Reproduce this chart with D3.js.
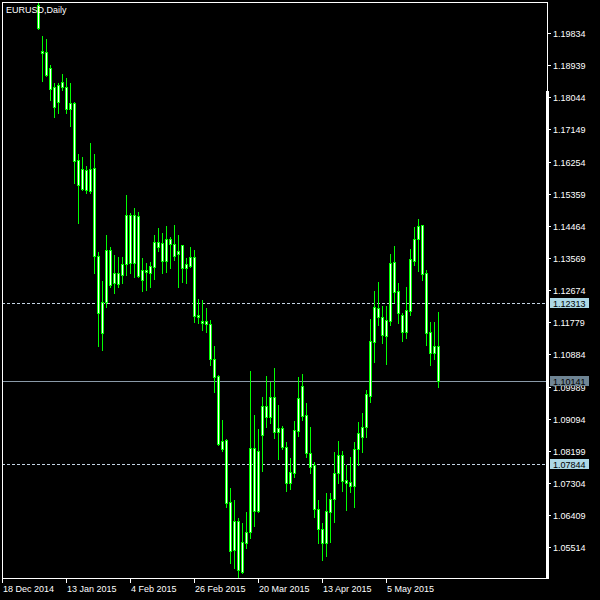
<!DOCTYPE html>
<html><head><meta charset="utf-8">
<script src="https://cdn.jsdelivr.net/npm/d3@7"></script>
<style>html,body{margin:0;padding:0;background:#000;}svg{display:block}</style>
</head><body>
<script>
const chartTitle = "EURUSD,Daily";
const firstBarIndex = 9;
const openP = [1.20614,1.19333,1.19305,1.18860,1.18331,1.17914,1.18331,1.18331,1.17719,1.17886,
1.16299,1.15492,1.16021,1.15436,1.16076,1.13626,1.11483,1.12346,1.13793,1.12875,
1.13153,1.13098,1.13404,1.14768,1.13432,1.14740,1.12958,1.13237,1.13153,1.13320,
1.14016,1.13988,1.13487,1.14100,1.13961,1.13682,1.13933,1.13292,1.13348,1.13599,
1.11928,1.11817,1.11817,1.11733,1.10759,1.10286,1.08254,1.08504,1.06778,1.05442,
1.06249,1.04830,1.05637,1.05943,1.08282,1.06528,1.08643,1.09451,1.09145,1.09701,
1.08727,1.08838,1.08309,1.07307,1.07586,1.08755,1.10008,1.09200,1.08142,1.07808,
1.06583,1.06027,1.05637,1.06500,1.06862,1.07586,1.08087,1.07391,1.07335,1.07224,
1.08254,1.08588,1.08866,1.09729,1.11232,1.12179,1.11928,1.11399,1.11817,1.13459,
1.12652,1.11984,1.11511,1.12095,1.13487,1.14100,1.14489,1.13153,1.11511,1.10926,1.11121];
const highP = [1.21310,1.19751,1.19667,1.18944,1.18442,1.18442,1.18693,1.18582,1.18442,1.17914,
1.16466,1.16382,1.16132,1.16772,1.16466,1.13738,1.12931,1.14211,1.13877,1.13654,
1.13599,1.13599,1.15325,1.14824,1.14963,1.14851,1.13571,1.13432,1.13459,1.14211,
1.14406,1.14267,1.14462,1.14155,1.14489,1.14211,1.13933,1.13571,1.13877,1.13793,
1.12429,1.12402,1.12179,1.11845,1.11121,1.10314,1.09061,1.08532,1.07168,1.06834,
1.06333,1.06194,1.06500,1.10425,1.09200,1.08810,1.09701,1.10286,1.10119,1.10509,
1.09479,1.08894,1.08449,1.08003,1.09033,1.10258,1.10342,1.09534,1.08866,1.07892,
1.06834,1.06194,1.07029,1.07029,1.08170,1.08476,1.08198,1.07808,1.08031,1.08449,
1.09005,1.09256,1.09896,1.11873,1.12652,1.12903,1.12235,1.12235,1.13682,1.13905,
1.12875,1.12040,1.12763,1.13821,1.14434,1.14656,1.14489,1.13237,1.11789,1.11789,1.12068];
const lowP = [1.19946,1.18498,1.18637,1.17969,1.17496,1.17607,1.18248,1.17607,1.17245,1.15659,
1.14545,1.15464,1.15380,1.15380,1.13153,1.11121,1.11010,1.12207,1.12763,1.12596,
1.12763,1.12875,1.13098,1.13153,1.13042,1.13042,1.12652,1.12680,1.12763,1.12986,
1.13766,1.13153,1.13181,1.13292,1.13515,1.12763,1.12903,1.12875,1.13320,1.11789,
1.11761,1.11566,1.11511,1.10592,1.09841,1.08365,1.08198,1.06639,1.05080,1.04941,
1.04635,1.04802,1.05498,1.05776,1.06110,1.06500,1.07641,1.08866,1.08978,1.08560,
1.07975,1.08254,1.07085,1.07140,1.07474,1.08616,1.09061,1.08031,1.07586,1.06361,
1.05637,1.05164,1.05275,1.05665,1.06222,1.07307,1.07085,1.06556,1.07057,1.06639,
1.07808,1.08170,1.08588,1.09562,1.10676,1.11706,1.11205,1.10620,1.11706,1.12346,
1.11761,1.11260,1.11344,1.11984,1.13376,1.13209,1.12958,1.11149,1.10592,1.10759,1.09980];
const closeP = [1.19974,1.19278,1.18665,1.18275,1.17774,1.18387,1.18470,1.17719,1.17886,1.16271,
1.15603,1.16048,1.15464,1.16048,1.13626,1.12040,1.12346,1.13793,1.12819,1.13153,
1.12847,1.13404,1.14768,1.13432,1.14768,1.13070,1.13237,1.13181,1.13348,1.14016,
1.13877,1.13487,1.14100,1.13961,1.13626,1.13766,1.13292,1.13404,1.13599,1.11956,
1.11984,1.11761,1.11733,1.10759,1.10258,1.08393,1.08476,1.06750,1.05414,1.06249,
1.04885,1.05665,1.05943,1.08282,1.06528,1.08198,1.09451,1.09145,1.09701,1.08727,
1.08838,1.08309,1.07307,1.07613,1.08783,1.09673,1.09172,1.08142,1.07753,1.06583,
1.06027,1.05637,1.06528,1.06862,1.07586,1.08087,1.07363,1.07307,1.07224,1.08254,
1.08699,1.08866,1.09785,1.11260,1.12207,1.11928,1.11427,1.11845,1.13432,1.12624,
1.12040,1.11511,1.12123,1.13543,1.14100,1.14462,1.13125,1.11483,1.10926,1.11121,1.10141];
const xTickBars = [0,16,32,48,64,80,96];
const xTickLabels = ["18 Dec 2014","13 Jan 2015","4 Feb 2015","26 Feb 2015","20 Mar 2015","13 Apr 2015","5 May 2015"];
const yTicks = [1.19834,1.18939,1.18044,1.17149,1.16254,1.15359,1.14464,1.13569,1.12674,1.11779,1.10884,1.09989,1.09094,1.08199,1.07304,1.06409,1.05514];
const hLines = [1.12313,1.07844];
const bidPrice = 1.10141;

const W = 600, H = 600;
const fL = 2, fT = 2, fR = 547, fB = 578;
const GREEN = "#00ff00";
const FONT = "'Liberation Sans', Arial, sans-serif";

const svg = d3.select("body").append("svg").attr("width", W).attr("height", H)
  .attr("shape-rendering", "crispEdges");
svg.append("rect").attr("width", W).attr("height", H).attr("fill", "#000");

const x = d3.scaleLinear().domain([0, 109]).range([2, 438]);
const y = d3.scaleLinear().domain([1.05514, 1.19834]).range([547.4, 33]);

svg.append("defs").append("clipPath").attr("id", "plot")
  .append("rect").attr("x", fL + 1).attr("y", fT + 1).attr("width", fR - fL - 1).attr("height", fB - fT - 1);

const bars = openP.map((o, i) => ({ k: firstBarIndex + i, o, h: highP[i], l: lowP[i], c: closeP[i] }));

// horizontal lines
const lines = svg.append("g");
hLines.forEach(p => {
  const yy = Math.round(y(p)) + 0.5;
  lines.append("line").attr("x1", fL).attr("x2", fR - 1).attr("y1", yy).attr("y2", yy)
    .attr("stroke", "#c4d4e4").attr("stroke-width", 1).attr("stroke-dasharray", "3,2");
});
{
  const yy = Math.round(y(bidPrice)) + 0.5;
  lines.append("line").attr("x1", fL).attr("x2", fR).attr("y1", yy).attr("y2", yy)
    .attr("stroke", "#8a9aa8").attr("stroke-width", 1);
}

const g = svg.append("g").attr("clip-path", "url(#plot)");
g.selectAll("rect.wick").data(bars).join("rect").attr("class", "wick")
  .attr("x", d => Math.round(x(d.k)))
  .attr("y", d => Math.round(y(d.h)))
  .attr("width", 1)
  .attr("height", d => Math.round(y(d.l)) - Math.round(y(d.h)) + 1)
  .attr("fill", GREEN);
g.selectAll("rect.body").data(bars).join("rect").attr("class", "body")
  .attr("x", d => Math.round(x(d.k)) - 1)
  .attr("y", d => Math.round(y(Math.max(d.o, d.c))))
  .attr("width", 3)
  .attr("height", d => Math.round(y(Math.min(d.o, d.c))) - Math.round(y(Math.max(d.o, d.c))) + 1)
  .attr("fill", GREEN);
g.selectAll("rect.inner").data(bars.filter(d => Math.round(y(Math.min(d.o, d.c))) - Math.round(y(Math.max(d.o, d.c))) > 1))
  .join("rect").attr("class", "inner")
  .attr("x", d => Math.round(x(d.k)))
  .attr("y", d => Math.round(y(Math.max(d.o, d.c))) + 1)
  .attr("width", 1)
  .attr("height", d => Math.round(y(Math.min(d.o, d.c))) - Math.round(y(Math.max(d.o, d.c))) - 1)
  .attr("fill", "#ffffff");

// frame
svg.append("rect").attr("x", fL).attr("y", fT).attr("width", fR - fL).attr("height", 1).attr("fill", "#fff");
svg.append("rect").attr("x", fL).attr("y", fB).attr("width", fR - fL + 1).attr("height", 1).attr("fill", "#fff");
svg.append("rect").attr("x", fL).attr("y", fT).attr("width", 1).attr("height", fB - fT).attr("fill", "#fff");
svg.append("rect").attr("x", fR).attr("y", fT).attr("width", 1).attr("height", fB - fT + 1).attr("fill", "#fff");
svg.append("rect").attr("x", fR - 1).attr("y", 91).attr("width", 3).attr("height", fB - 91 + 1).attr("fill", "#fff");

// title
svg.append("text").attr("x", 6).attr("y", 13).attr("fill", "#fff")
  .attr("font-family", FONT).attr("font-size", 9).text(chartTitle);

// y axis
const ya = svg.append("g");
yTicks.forEach(t => {
  const yy = Math.round(y(t));
  ya.append("rect").attr("x", fR).attr("y", yy).attr("width", 4).attr("height", 1).attr("fill", "#fff");
  ya.append("text").attr("x", 553).attr("y", yy + 3.5).attr("fill", "#fff")
    .attr("font-family", FONT).attr("font-size", 9).text(t.toFixed(5));
});

// price labels
function priceBox(p, bg) {
  const yy = Math.round(y(p));
  svg.append("rect").attr("x", 550).attr("y", yy - 5).attr("width", 39).attr("height", 10).attr("fill", bg);
  svg.append("text").attr("x", 553).attr("y", yy + 3.5).attr("fill", "#000")
    .attr("font-family", FONT).attr("font-size", 9).text(p.toFixed(5));
}
hLines.forEach(p => priceBox(p, "#add8e6"));
priceBox(bidPrice, "#6f8594");

// x axis
const xa = svg.append("g");
xTickBars.forEach((b, i) => {
  const xx = Math.round(x(b));
  xa.append("rect").attr("x", xx).attr("y", fB).attr("width", 1).attr("height", 5).attr("fill", "#fff");
  xa.append("text").attr("x", xx + 1).attr("y", 592).attr("fill", "#fff")
    .attr("font-family", FONT).attr("font-size", 9).text(xTickLabels[i]);
});
</script>
</body></html>
